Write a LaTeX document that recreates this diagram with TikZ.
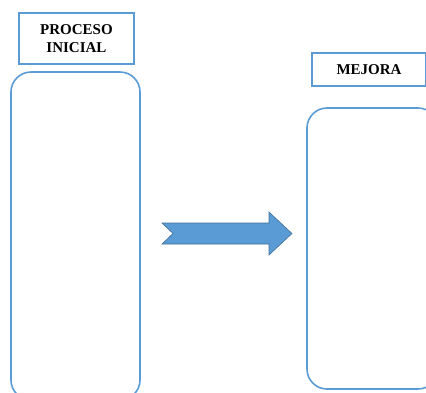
\documentclass[tikz,border=0pt]{standalone}
\usepackage{fontspec}
\setmainfont{Liberation Serif}
\definecolor{boxblue}{HTML}{5B9BD5}
\definecolor{arrowedge}{HTML}{41719C}
\tikzset{
  labelbox/.style={draw=boxblue, line width=1.4pt, rectangle, inner sep=0pt, font=\fontsize{15}{17.5}\selectfont\bfseries, align=center},
  panel/.style={draw=boxblue, line width=1.6pt, rectangle, rounded corners=20pt, inner sep=0pt}
}
\begin{document}
\begin{tikzpicture}[x=1pt,y=-1pt]
\useasboundingbox (0,0) rectangle (426,392);
\clip (0,0) rectangle (426,392);
\node[labelbox, minimum width=115pt, minimum height=51pt] (lab1) at (76.5,38.5) {PROCESO\\INICIAL};
\node[labelbox, minimum width=114pt, minimum height=33pt] (lab2) at (369,69.5) {MEJORA};
\node[panel, minimum width=129pt, minimum height=328pt] (p1) at (75.5,236) {};
\node[panel, minimum width=131pt, minimum height=281pt] (p2) at (372.5,248.5) {};
\path[fill=boxblue, draw=arrowedge, line width=0.6pt]
  (162,223) -- (269,223) -- (269,212) -- (292,233.5) -- (269,255) -- (269,244) -- (162,244) -- (173,233.5) -- cycle;
\end{tikzpicture}
\end{document}
